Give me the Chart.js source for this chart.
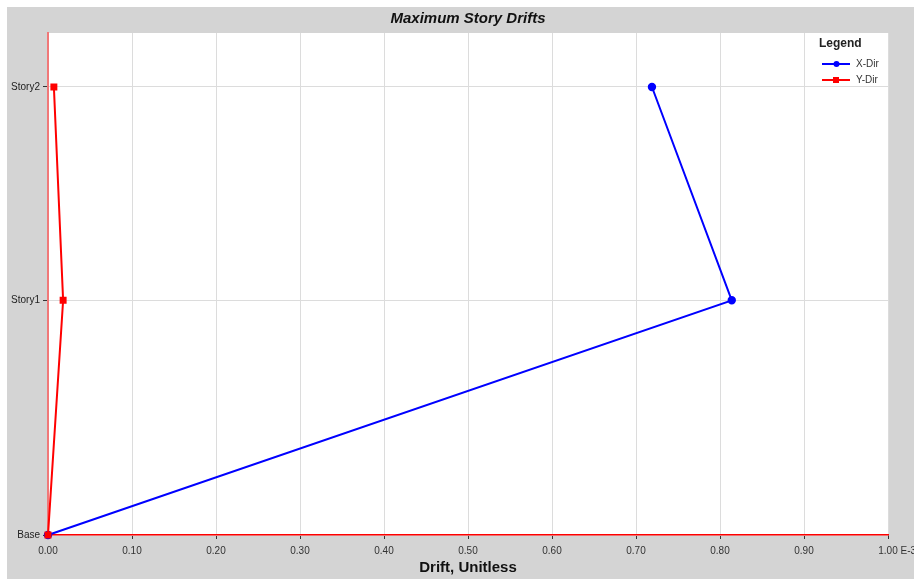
<!DOCTYPE html>
<html>
<head>
<meta charset="utf-8">
<script src="https://cdn.jsdelivr.net/npm/chart.js@4.4.1/dist/chart.umd.min.js"></script>
<style>
  html,body{margin:0;padding:0;background:#fff;}
  #wrap{position:absolute;left:7px;top:7px;width:907px;height:572px;background:#d4d4d4;}
  canvas{display:block;}
</style>
</head>
<body>
<div id="wrap"><canvas id="c" width="907" height="572"></canvas></div>
<script>
// ---- data ----
const stories = ['Base', 'Story1', 'Story2'];
const elevations = [0, 11, 21];
const xDirDrift = [0, 0.814, 0.719];
const yDirDrift = [0, 0.018, 0.007];
const xTickValues = [0, 0.1, 0.2, 0.3, 0.4, 0.5, 0.6, 0.7, 0.8, 0.9, 1.0];
const seriesLabels = ['X-Dir', 'Y-Dir'];
const xUnitSuffix = 'E-3';

const FONT = 'Arial, "Liberation Sans", sans-serif';

const plotBg = {
  id: 'plotBg',
  beforeDraw(chart) {
    const {ctx, chartArea: a} = chart;
    ctx.save();
    ctx.fillStyle = '#ffffff';
    ctx.fillRect(a.left, a.top, a.right - a.left, a.bottom - a.top);
    ctx.restore();
  }
};

const legendBox = {
  id: 'legendBox',
  afterDraw(chart) {
    const {ctx, chartArea: a} = chart;
    const x0 = a.right - 70;
    ctx.save();
    ctx.fillStyle = '#222';
    ctx.font = 'bold 12px ' + FONT;
    ctx.textBaseline = 'middle';
    ctx.textAlign = 'left';
    ctx.fillText('Legend', x0 + 1, a.top + 11);
    chart.data.datasets.forEach((ds, i) => {
      const y = a.top + 31 + i * 16;
      ctx.strokeStyle = ds.borderColor;
      ctx.lineWidth = 2;
      ctx.beginPath();
      ctx.moveTo(x0 + 4, y);
      ctx.lineTo(x0 + 32, y);
      ctx.stroke();
      ctx.fillStyle = ds.borderColor;
      if (ds.pointStyle === 'rect') {
        ctx.fillRect(x0 + 15, y - 3, 6, 6);
      } else {
        ctx.beginPath();
        ctx.arc(x0 + 18.5, y, 3, 0, Math.PI * 2);
        ctx.fill();
      }
      ctx.fillStyle = '#333';
      ctx.font = '10px ' + FONT;
      ctx.fillText(ds.label, x0 + 38, y);
    });
    // unit suffix after last x tick label
    const xs = chart.scales.x;
    const px = xs.getPixelForValue(xTickValues[xTickValues.length - 1]);
    ctx.font = '10px ' + FONT;
    const w = ctx.measureText('1.00').width;
    ctx.fillStyle = '#333';
    ctx.textBaseline = 'middle';
    ctx.fillText(' ' + xUnitSuffix, px + w / 2, a.bottom + 16);
    ctx.restore();
  }
};

new Chart(document.getElementById('c'), {
  type: 'scatter',
  data: {
    datasets: [
      {
        label: seriesLabels[0],
        data: xDirDrift.map((v, i) => ({x: v, y: elevations[i]})),
        showLine: true,
        borderColor: '#0000ff',
        backgroundColor: '#0000ff',
        borderWidth: 2,
        pointStyle: 'circle',
        pointRadius: 3.2,
        pointHoverRadius: 3.2,
        clip: false,
        order: 1
      },
      {
        label: seriesLabels[1],
        data: yDirDrift.map((v, i) => ({x: v, y: elevations[i]})),
        showLine: true,
        borderColor: '#ff0000',
        backgroundColor: '#ff0000',
        borderWidth: 2,
        pointStyle: 'rect',
        pointRadius: 3.5,
        pointHoverRadius: 3.5,
        clip: false,
        order: 0
      }
    ]
  },
  options: {
    responsive: false,
    animation: false,
    events: [],
    layout: {padding: {left: 0, right: 26, top: 0, bottom: 0}},
    plugins: {
      legend: {display: false},
      tooltip: {enabled: false},
      title: {
        display: true,
        fullSize: false,
        text: 'Maximum Story Drifts',
        color: '#111',
        font: {family: FONT, size: 15, weight: 'bold', style: 'italic'},
        padding: {top: 3, bottom: 5}
      }
    },
    scales: {
      x: {
        type: 'linear',
        min: 0,
        max: 1,
        afterBuildTicks(s) { s.ticks = xTickValues.map(v => ({value: v})); },
        afterFit(s) { s.height = 44; },
        ticks: {
          color: '#333',
          font: {family: FONT, size: 10},
          padding: 6,
          maxRotation: 0,
          autoSkip: false,
          callback: v => v.toFixed(2)
        },
        grid: {color: '#dcdcdc', tickColor: '#333', tickLength: 4, lineWidth: 1},
        border: {color: '#ff0000', width: 1.5},
        title: {
          display: true,
          text: 'Drift, Unitless',
          color: '#111',
          font: {family: FONT, size: 15, weight: 'bold'},
          padding: {top: 0, bottom: 2}
        }
      },
      y: {
        type: 'linear',
        min: 0,
        max: 23.53,
        afterBuildTicks(s) { s.ticks = elevations.map(v => ({value: v})); },
        afterFit(s) { s.width = 41; },
        ticks: {
          color: '#222',
          font: {family: FONT, size: 10},
          padding: 3,
          autoSkip: false,
          callback: v => { const i = elevations.indexOf(v); return i >= 0 ? stories[i] : ''; }
        },
        grid: {color: '#dcdcdc', tickColor: '#333', tickLength: 5, lineWidth: 1},
        border: {color: '#f07878', width: 2}
      }
    }
  },
  plugins: [plotBg, legendBox]
});
</script>
</body>
</html>
